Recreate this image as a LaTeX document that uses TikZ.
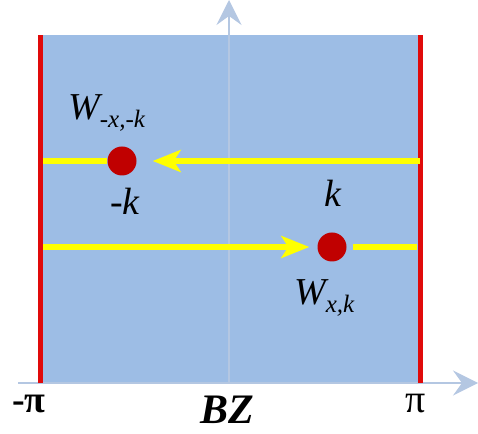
\documentclass[tikz,border=0pt]{standalone}
\usepackage{fontspec}
\setmainfont{Liberation Serif}
\usetikzlibrary{arrows.meta}
\definecolor{bzblue}{HTML}{9DBDE5}
\definecolor{axisc}{HTML}{B4C7E2}
\definecolor{edgered}{HTML}{E00A0A}
\definecolor{dotred}{HTML}{C00000}
\definecolor{ylw}{HTML}{FFFF00}
\tikzset{
  axisline/.style={draw=axisc, line width=1.6pt, -{Stealth[length=25pt,width=25pt,inset=9pt]}},
  edgeline/.style={draw=edgered, line width=5pt},
  path/.style={draw=ylw, line width=6pt},
  patharrow/.style={draw=ylw, line width=6pt, -{Stealth[length=28pt,width=22pt,inset=7pt]}},
  wdot/.style={circle, fill=dotred, minimum size=29pt, inner sep=0pt},
  lbl/.style={inner sep=0pt, font=\fontsize{38}{38}\selectfont\itshape},
}
\newcommand{\subtxt}[1]{\raisebox{-8pt}{\fontsize{25}{25}\selectfont\itshape #1}}
\begin{document}
\begin{tikzpicture}[x=1pt,y=1pt]
\useasboundingbox (0,0) rectangle (478,433);
% Brillouin zone
\fill[bzblue] (40,50) rectangle (420,398);
% axes
\coordinate (xs) at (18,50);
\coordinate (xe) at (478,50);
\coordinate (ys) at (229,50);
\coordinate (ye) at (229,433);
\draw[axisline] (xs) -- (xe);
\draw[axisline] (ys) -- (ye);
% zone edges
\coordinate (lb) at (40,50); \coordinate (lt) at (40,398);
\coordinate (rb) at (420,50); \coordinate (rt) at (420,398);
\draw[edgeline] (lb) -- (lt);
\draw[edgeline] (rb) -- (rt);
% dots
\node[wdot] (wa) at (122,272) {};
\node[wdot] (wb) at (332,186) {};
% yellow paths
\coordinate (ua) at (420,272);
\coordinate (ub) at (43,272);
\coordinate (la) at (43,186);
\coordinate (lc) at (417,186);
\draw[patharrow, shorten >=16pt] (ua) -- (wa);
\draw[path] (ub) -- (wa.west);
\draw[patharrow, shorten >=8pt] (la) -- (wb);
\draw[path, shorten <=6pt] (wb.east) -- (lc);
% labels
\node[lbl, anchor=base west] (lwa) at (68,313) {W\subtxt{-x,-k}};
\node[lbl, anchor=base] (lka) at (125,218) {-k};
\node[lbl, anchor=base] (lkb) at (333,226) {k};
\node[lbl, anchor=base west] (lwb) at (294,128) {W\subtxt{x,k}};
\node[inner sep=0pt, anchor=base, font=\fontsize{38}{38}\selectfont\bfseries] (mpi) at (29,21) {-π};
\node[inner sep=0pt, anchor=base, font=\fontsize{40}{40}\selectfont] (ppi) at (416,21) {π};
\node[inner sep=0pt, anchor=base, font=\fontsize{42}{42}\selectfont\bfseries\itshape] (bz) at (227,10) {BZ};
\end{tikzpicture}
\end{document}
